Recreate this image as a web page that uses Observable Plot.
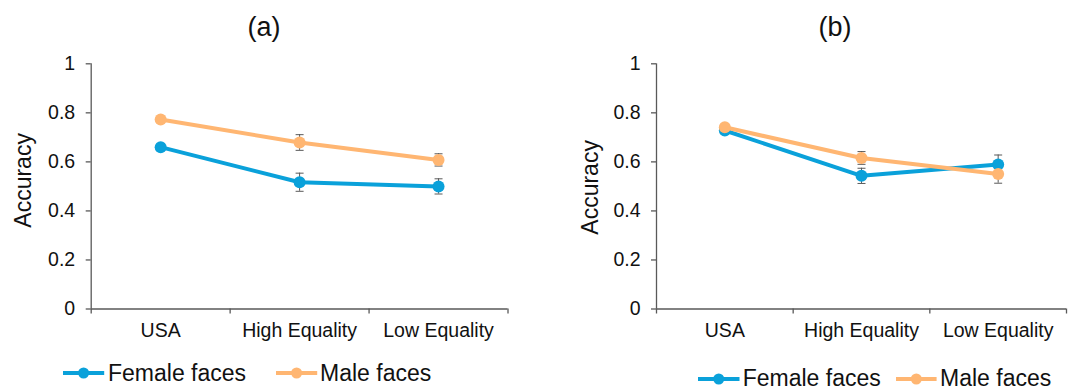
<!DOCTYPE html>
<html>
<head>
<meta charset="utf-8">
<script src="https://cdn.jsdelivr.net/npm/d3@7"></script>
<script src="https://cdn.jsdelivr.net/npm/@observablehq/plot@0.6"></script>
<style>
  html, body { margin: 0; padding: 0; background: #fff; }
  #wrap { position: relative; width: 1072px; height: 391px; overflow: hidden; background: #fff;
          font-family: "Liberation Sans", Arial, sans-serif; color: #111; }
  .abs { position: absolute; white-space: nowrap; line-height: 1; }
  .panel { position: absolute; top: 0; }
</style>
</head>
<body>
<div id="wrap"></div>
<script>
// ---- data ----
const categories = ["USA", "High Equality", "Low Equality"];
const seriesNames = ["Female faces", "Male faces"];
const seriesColors = ["#0aa1da", "#ffb672"];
const yTicks = [0, 0.2, 0.4, 0.6, 0.8, 1];
const panelTitles = ["(a)", "(b)"];
const yLabel = "Accuracy";

// panel (a)
const aFemale    = [0.660, 0.517, 0.500];
const aFemaleErr = [0.012, 0.037, 0.031];
const aMale      = [0.773, 0.679, 0.608];
const aMaleErr   = [0.012, 0.032, 0.025];
// panel (b)
const bFemale    = [0.728, 0.543, 0.589];
const bFemaleErr = [0.012, 0.031, 0.039];
const bMale      = [0.741, 0.616, 0.551];
const bMaleErr   = [0.012, 0.026, 0.038];

const axisColor = "#595959";
const font = "'Liberation Sans', Arial, sans-serif";

function rows(female, femaleErr, male, maleErr) {
  const out = [];
  [[female, femaleErr], [male, maleErr]].forEach(([v, e], s) => {
    v.forEach((val, i) => out.push({series: seriesNames[s], cat: categories[i], idx: i, value: val, err: e[i]}));
  });
  return out;
}

const capSymbol = {
  draw(ctx, size) {
    const r = Math.sqrt(size / Math.PI);
    ctx.moveTo(-r, 0);
    ctx.lineTo(r, 0);
  }
};

function panel(data, opts) {
  const xc = d => d.idx + 0.5;
  const marks = [
    Plot.ruleX(data, {x: xc, y1: d => d.value - d.err, y2: d => d.value + d.err, stroke: axisColor, strokeWidth: 1}),
    Plot.dot(data, {x: xc, y: d => d.value - d.err, symbol: capSymbol, r: 4, stroke: axisColor, strokeWidth: 1, fill: "none"}),
    Plot.dot(data, {x: xc, y: d => d.value + d.err, symbol: capSymbol, r: 4, stroke: axisColor, strokeWidth: 1, fill: "none"}),
  ];
  seriesNames.forEach((s, k) => {
    const sd = data.filter(d => d.series === s);
    marks.push(Plot.line(sd, {x: xc, y: "value", stroke: seriesColors[k], strokeWidth: 4, strokeLinejoin: "round"}));
    marks.push(Plot.dot(sd, {x: xc, y: "value", r: 6, fill: seriesColors[k], stroke: "none"}));
  });
  marks.push(
    Plot.ruleY([0], {stroke: axisColor, strokeWidth: 1.3}),
    Plot.ruleX([0], {y1: 0, y2: 1, stroke: axisColor, strokeWidth: 1.3}),
    Plot.axisY({ticks: yTicks, tickFormat: d => String(d), tickSize: 5, tickPadding: 11,
                fontSize: 19.5, stroke: axisColor, strokeWidth: 1.3, fill: "#111", label: null}),
    Plot.axisX({ticks: [0, 1, 2, 3], tickSize: 5, tickFormat: () => "", stroke: axisColor, strokeWidth: 1.3, label: null}),
    Plot.axisX({ticks: [0.5, 1.5, 2.5], tickSize: 0, tickPadding: 14, fontSize: 19.5, fill: "#111",
                tickFormat: d => categories[Math.floor(d)], label: null}),
    Plot.text([yLabel], {frameAnchor: "left", text: d => d, rotate: -90, fontSize: 23, fill: "#111",
                         textAnchor: "middle", lineAnchor: "middle",
                         dx: opts.labelDx, dy: opts.labelDy})
  );
  return Plot.plot({
    width: 536, height: 391,
    marginLeft: opts.ml, marginRight: opts.mr, marginTop: 63.3, marginBottom: 82.5,
    x: {domain: [0, 3]},
    y: {domain: [0, 1]},
    style: {fontFamily: font, background: "transparent", overflow: "visible"},
    marks
  });
}

const wrap = document.getElementById("wrap");

const pa = panel(rows(aFemale, aFemaleErr, aMale, aMaleErr), {ml: 90.7, mr: 28.5, labelDx: -67.6, labelDy: -6});
pa.classList.add("panel"); pa.style.left = "0px";
wrap.appendChild(pa);

const pb = panel(rows(bFemale, bFemaleErr, bMale, bMaleErr), {ml: 120, mr: 6, labelDx: -66, labelDy: 1});
pb.classList.add("panel"); pb.style.left = "536px";
wrap.appendChild(pb);

// titles
function addText(txt, left, top, size, center) {
  const d = document.createElement("div");
  d.className = "abs";
  d.textContent = txt;
  d.style.fontSize = size + "px";
  d.style.top = top + "px";
  if (center) { d.style.left = left + "px"; d.style.transform = "translateX(-50%)"; }
  else d.style.left = left + "px";
  wrap.appendChild(d);
}
addText(panelTitles[0], 264, 13.5, 27, true);
addText(panelTitles[1], 835, 13.5, 27, true);

// legends
function swatch(x1, x2, y, color) {
  const svg = d3.create("svg").attr("width", x2 - x1 + 12).attr("height", 16)
    .style("position", "absolute").style("left", (x1 - 6) + "px").style("top", (y - 8) + "px");
  svg.append("line").attr("x1", 6).attr("x2", x2 - x1 + 6).attr("y1", 8).attr("y2", 8)
    .attr("stroke", color).attr("stroke-width", 4);
  svg.append("circle").attr("cx", (x2 - x1) / 2 + 6).attr("cy", 8).attr("r", 5.5).attr("fill", color);
  wrap.appendChild(svg.node());
}
const legends = [
  {y: 373.3, base: 381, items: [[62.8, 104, 108], [275.5, 316.7, 320]]},
  {y: 379.3, base: 386.7, items: [[697.5, 739, 742.7], [896, 936.6, 940]]}
];
legends.forEach(L => {
  L.items.forEach(([x1, x2, tx], k) => {
    swatch(x1, x2, L.y, seriesColors[k]);
    addText(seriesNames[k], tx, L.base - 0.8465 * 23, 23, false);
  });
});
</script>
</body>
</html>
